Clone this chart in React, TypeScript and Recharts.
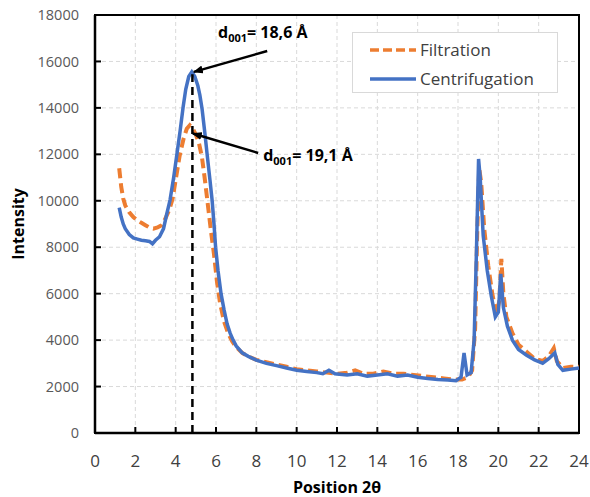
import {
  LineChart,
  Line,
  XAxis,
  YAxis,
  CartesianGrid,
  Legend,
  ReferenceLine,
  ReferenceArea,
  ReferenceDot,
  Label,
} from "recharts";

const FONT = "'Open Sans', 'Liberation Sans', sans-serif";

const xTicks = [0, 2, 4, 6, 8, 10, 12, 14, 16, 18, 20, 22, 24];
const yTicks = [0, 2000, 4000, 6000, 8000, 10000, 12000, 14000, 16000, 18000];

const filtrationX = [
  1.2, 1.3, 1.4, 1.5, 1.7, 1.9, 2.1, 2.3, 2.5, 2.7, 2.9, 3.1, 3.3, 3.5, 3.7, 3.85, 4.0, 4.2, 4.4, 4.55,
  4.7, 4.85, 5.0, 5.15, 5.3, 5.45, 5.6, 5.75, 5.9, 6.05, 6.2, 6.4, 6.6, 6.8, 7.0, 7.3, 7.6, 8.0, 8.5,
  9.0, 9.5, 10.0, 10.5, 11.0, 11.5, 12.0, 12.5, 12.9, 13.3, 13.8, 14.3, 14.8, 15.3, 15.8, 16.3, 16.8,
  17.3, 17.8, 18.2, 18.5, 18.7, 18.85, 18.95, 19.05, 19.15, 19.3, 19.5, 19.7, 19.9, 20.05, 20.15,
  20.25, 20.4, 20.7, 21.0, 21.4, 21.8, 22.2, 22.5, 22.75, 22.9, 23.2, 23.6, 24.0,
];
const filtrationY = [
  11400, 10600, 10100, 9800, 9500, 9300, 9150, 9050, 8950, 8850, 8800, 8850, 8950, 9250, 9650, 10100,
  10900, 11950, 12700, 13100, 13250, 13100, 12850, 12500, 11900, 10900, 9800, 8700, 7700, 6500, 5600,
  4800, 4300, 3950, 3700, 3450, 3300, 3150, 3050, 2950, 2850, 2750, 2700, 2650, 2600, 2550, 2600,
  2700, 2550, 2550, 2650, 2550, 2550, 2500, 2450, 2400, 2350, 2300, 2300, 2400, 2700, 4500, 8500,
  11400, 10800, 8800, 7200, 6000, 5100, 5700, 7500, 6000, 5000, 4300, 3800, 3500, 3200, 3100, 3300,
  3650, 3100, 2800, 2850, 2850,
];

const centrifugationX = [
  1.2, 1.3, 1.4, 1.5, 1.7, 1.9, 2.1, 2.3, 2.5, 2.7, 2.85, 3.0, 3.2, 3.4, 3.55, 3.72, 3.9, 4.07, 4.22,
  4.37, 4.5, 4.65, 4.8, 4.95, 5.1, 5.2, 5.31, 5.45, 5.56, 5.7, 5.81, 5.9, 5.98, 6.1, 6.25, 6.4, 6.55,
  6.7, 6.85, 7.0, 7.3, 7.6, 8.0, 8.5, 9.0, 9.5, 10.0, 10.5, 11.0, 11.3, 11.6, 11.9, 12.5, 13.0, 13.5,
  14.0, 14.5, 15.0, 15.5, 16.0, 16.5, 17.0, 17.5, 17.9, 18.15, 18.3, 18.45, 18.65, 18.8, 18.92, 19.02,
  19.1, 19.25, 19.45, 19.65, 19.85, 20.0, 20.12, 20.25, 20.45, 20.7, 21.0, 21.4, 21.8, 22.2, 22.5,
  22.8, 22.95, 23.2, 23.6, 24.0,
];
const centrifugationY = [
  9700, 9300, 9000, 8800, 8550, 8400, 8350, 8300, 8280, 8250, 8150, 8300, 8450, 8800, 9400, 10030,
  11000, 12060, 13000, 14040, 14800, 15350, 15550, 15350, 14950, 14550, 13950, 12900, 12000, 10900,
  10000, 9000, 8000, 7000, 6000, 5300, 4700, 4300, 4000, 3750, 3450, 3300, 3140, 3000, 2900, 2800,
  2700, 2650, 2600, 2550, 2700, 2550, 2500, 2550, 2450, 2500, 2550, 2450, 2500, 2400, 2350, 2300,
  2280, 2250, 2400, 3450, 2500, 2600, 4000, 8000, 11800, 11000, 8500, 7000, 5900, 5000, 5200, 6850,
  5400, 4600, 4000, 3600, 3350, 3150, 3000, 3200, 3450, 2950, 2700, 2750, 2800,
];

const filtration = filtrationX.map((x, i) => ({ x, y: filtrationY[i] }));
const centrifugation = centrifugationX.map((x, i) => ({ x, y: centrifugationY[i] }));

const ORANGE = "#ED7D31";
const BLUE = "#4472C4";

function XTick({ x, y, payload }: any) {
  return (
    <g>
      <line x1={x} x2={x} y1={y} y2={y - 6} stroke="#000" strokeWidth={2} />
      <text x={x} y={y + 34} textAnchor="middle" fontSize={17} fill="#404040" fontFamily={FONT}>
        {payload.value}
      </text>
    </g>
  );
}

function YTick({ x, y, payload }: any) {
  return (
    <g>
      <line x1={x} x2={x + 6} y1={y} y2={y} stroke="#000" strokeWidth={2} />
      <text x={x - 16} y={y} dy="0.35em" textAnchor="end" fontSize={14.5} fill="#595959" fontFamily={FONT}>
        {payload.value}
      </text>
    </g>
  );
}

function LegendBox() {
  const rows = [
    { name: "Filtration", color: ORANGE, dash: "9 4" },
    { name: "Centrifugation", color: BLUE, dash: undefined },
  ];
  return (
    <div
      style={{
        width: 206,
        height: 61,
        boxSizing: "border-box",
        border: "1px solid #d9d9d9",
        background: "#fff",
        paddingTop: 2,
      }}
    >
      {rows.map((r) => (
        <div key={r.name} style={{ display: "flex", alignItems: "center", height: 29, paddingLeft: 17 }}>
          <svg width={46} height={8} style={{ marginRight: 4 }}>
            <line x1={0} x2={46} y1={4} y2={4} stroke={r.color} strokeWidth={3.5} strokeDasharray={r.dash} />
          </svg>
          <span style={{ fontFamily: FONT, fontSize: 17, color: "#404040" }}>{r.name}</span>
        </div>
      ))}
    </div>
  );
}

function Annot({ viewBox, value }: any) {
  const { x, y } = viewBox;
  return (
    <text x={x} y={y} fontFamily={FONT} fontWeight="bold" fontSize={16} fill="#000">
      d
      <tspan fontSize={11} dy={4}>001</tspan>
      <tspan dy={-4}>{value}</tspan>
    </text>
  );
}

export default function App() {
  return (
    <div style={{ position: "absolute", left: 0, top: 0, width: 590, height: 497, background: "#fff" }}>
      <svg width={0} height={0} style={{ position: "absolute" }}>
        <defs>
          <marker id="arrowHead" markerWidth="10" markerHeight="8" refX="9" refY="4" orient="auto" markerUnits="userSpaceOnUse">
            <path d="M0,0 L10,4 L0,8 Z" fill="#000" />
          </marker>
        </defs>
      </svg>
      <LineChart width={590} height={497} margin={{ top: 15, right: 11, left: 0, bottom: 0 }}>
        <CartesianGrid stroke="#d9d9d9" strokeDasharray="4 3" />
        <XAxis
          type="number"
          dataKey="x"
          domain={[0, 24]}
          ticks={xTicks}
          interval={0}
          height={64}
          tickSize={0}
          tickMargin={0}
          tickLine={false}
          tick={<XTick />}
          axisLine={{ stroke: "#000", strokeWidth: 2.5 }}
        >
          <Label
            value="Position 2θ"
            position="insideBottom"
            offset={4}
            style={{ fontFamily: FONT, fontWeight: "bold", fontSize: 16, fill: "#000" }}
          />
        </XAxis>
        <YAxis
          type="number"
          domain={[0, 18000]}
          ticks={yTicks}
          interval={0}
          width={95}
          tickSize={0}
          tickMargin={0}
          tickLine={false}
          tick={<YTick />}
          axisLine={{ stroke: "#000", strokeWidth: 2.5 }}
        >
          <Label
            content={({ viewBox }: any) => (
              <text
                x={24}
                y={viewBox.y + viewBox.height / 2}
                transform={`rotate(-90 24 ${viewBox.y + viewBox.height / 2})`}
                textAnchor="middle"
                fontFamily={FONT}
                fontWeight="bold"
                fontSize={16}
                fill="#000"
              >
                Intensity
              </text>
            )}
          />
        </YAxis>
        <ReferenceArea x1={0} x2={24} y1={0} y2={18000} fill="none" stroke="#000" strokeWidth={2} ifOverflow="visible" />
        <Legend
          layout="vertical"
          align="center"
          verticalAlign="middle"
          content={<LegendBox />}
          wrapperStyle={{ left: 352, top: 32, width: 206, height: 61 }}
        />
        <Line
          data={filtration}
          dataKey="y"
          name="Filtration"
          type="linear"
          stroke={ORANGE}
          strokeWidth={4}
          strokeDasharray="10 5"
          dot={false}
          isAnimationActive={false}
        />
        <Line
          data={centrifugation}
          dataKey="y"
          name="Centrifugation"
          type="linear"
          stroke={BLUE}
          strokeWidth={3.5}
          dot={false}
          isAnimationActive={false}
        />
        <ReferenceLine
          segment={[{ x: 4.83, y: 0 }, { x: 4.83, y: 15450 }]}
          stroke="#000"
          strokeWidth={2.5}
          strokeDasharray="8 5"
        />
        <ReferenceLine
          segment={[{ x: 8.54, y: 16450 }, { x: 4.9, y: 15550 }]}
          stroke="#000"
          strokeWidth={2.5}
          markerEnd="url(#arrowHead)"
        />
        <ReferenceLine
          segment={[{ x: 8.09, y: 12060 }, { x: 4.85, y: 12900 }]}
          stroke="#000"
          strokeWidth={2.5}
          markerEnd="url(#arrowHead)"
        />
        <ReferenceDot x={6.1} y={17010} r={0} label={<Annot value="= 18,6 Å" />} />
        <ReferenceDot x={8.34} y={11700} r={0} label={<Annot value="= 19,1 Å" />} />
      </LineChart>
    </div>
  );
}
